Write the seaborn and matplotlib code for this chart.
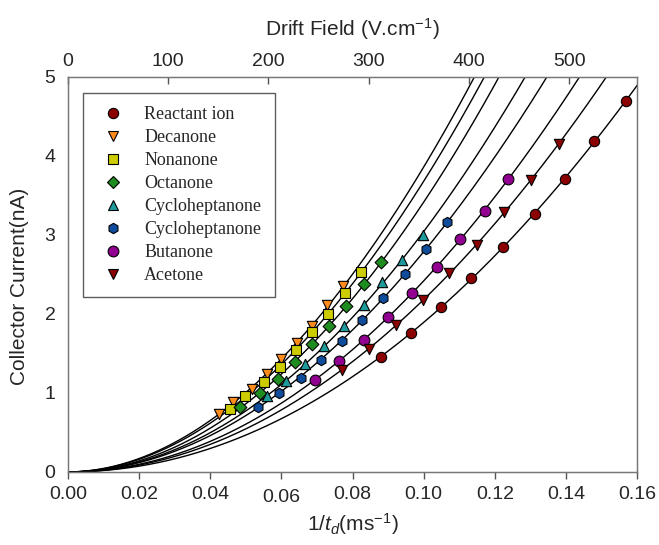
import numpy as np
import pandas as pd
import matplotlib
matplotlib.use("Agg")
import matplotlib.pyplot as plt
import matplotlib.transforms as mtransforms
import seaborn as sns
from matplotlib.lines import Line2D

# ---------------- data ----------------
series_names = ["Reactant ion", "Decanone", "Nonanone", "Octanone",
                "Cycloheptanone", "Cycloheptanone", "Butanone", "Acetone"]

reactant_x = [0.0880, 0.0964, 0.1049, 0.1133, 0.1223, 0.1313, 0.1398, 0.1479, 0.1569]
reactant_y = [1.456, 1.759, 2.089, 2.456, 2.848, 3.266, 3.709, 4.190, 4.700]

decanone_x = [0.0424, 0.0464, 0.0517, 0.0560, 0.0600, 0.0643, 0.0686, 0.0728, 0.0772]
decanone_y = [0.734, 0.886, 1.051, 1.234, 1.430, 1.633, 1.852, 2.108, 2.348]

nonanone_x = [0.0456, 0.0498, 0.0551, 0.0596, 0.0641, 0.0686, 0.0731, 0.0779, 0.0824]
nonanone_y = [0.797, 0.962, 1.139, 1.329, 1.544, 1.772, 2.000, 2.266, 2.532]

octanone_x = [0.0484, 0.0540, 0.0590, 0.0638, 0.0686, 0.0734, 0.0782, 0.0832, 0.0880]
octanone_y = [0.823, 1.000, 1.177, 1.392, 1.620, 1.848, 2.101, 2.380, 2.658]

cyclo_a_x = [0.0560, 0.0613, 0.0666, 0.0720, 0.0776, 0.0832, 0.0883, 0.0939, 0.0998]
cyclo_a_y = [0.962, 1.152, 1.367, 1.595, 1.848, 2.114, 2.405, 2.684, 3.000]

cyclo_b_x = [0.0534, 0.0593, 0.0655, 0.0711, 0.0770, 0.0826, 0.0885, 0.0947, 0.1007, 0.1065]
cyclo_b_y = [0.823, 1.000, 1.190, 1.418, 1.658, 1.924, 2.203, 2.506, 2.823, 3.165]

butanone_x = [0.0694, 0.0762, 0.0832, 0.0900, 0.0967, 0.1037, 0.1102, 0.1172, 0.1237]
butanone_y = [1.165, 1.405, 1.671, 1.962, 2.266, 2.595, 2.949, 3.304, 3.709]

acetone_x = [0.0770, 0.0846, 0.0922, 0.0998, 0.1071, 0.1150, 0.1226, 0.1302, 0.1381]
acetone_y = [1.291, 1.557, 1.861, 2.177, 2.519, 2.873, 3.291, 3.696, 4.152]

x_ticks = [0.00, 0.02, 0.04, 0.06, 0.08, 0.10, 0.12, 0.14, 0.16]
y_ticks = [0, 1, 2, 3, 4, 5]
top_ticks = [0, 100, 200, 300, 400, 500]
top_max = 568  # drift field at 1/td = 0.16

# ---------------- styles ----------------
colors = ["#8B0000", "#FF8C1A", "#CCCC00", "#1E8C1E",
          "#1F9A9A", "#0F4C9C", "#920092", "#8B0000"]
markers = ["o", "v", "s", "D", "^", "h", "o", "v"]
msizes = [55, 55, 46, 42, 55, 55, 60, 55]

xs = [reactant_x, decanone_x, nonanone_x, octanone_x, cyclo_a_x, cyclo_b_x, butanone_x, acetone_x]
ys = [reactant_y, decanone_y, nonanone_y, octanone_y, cyclo_a_y, cyclo_b_y, butanone_y, acetone_y]

plt.rcParams["mathtext.fontset"] = "custom"
plt.rcParams["mathtext.rm"] = "Liberation Sans"
plt.rcParams["mathtext.it"] = "Liberation Sans:italic"
sns.set_style("white")
plt.rcParams["font.family"] = ["Liberation Sans", "DejaVu Sans"]

fig = plt.figure(figsize=(6.59, 5.45), dpi=100)
ax = fig.add_axes([0.103, 0.134, 0.864, 0.725])

# fitted curves (power-law fit of each series' own points)
xgrid = np.linspace(0, 0.16, 400)
for x, y in zip(xs, ys):
    b, lna = np.polyfit(np.log(x), np.log(y), 1)
    curve = pd.DataFrame({"x": xgrid, "y": np.exp(lna) * xgrid ** b})
    sns.lineplot(data=curve, x="x", y="y", ax=ax, color="black", lw=1.0,
                 legend=False, zorder=2)

handles = []
for name, x, y, c, m, s in zip(series_names, xs, ys, colors, markers, msizes):
    df = pd.DataFrame({"x": x, "y": y})
    sns.scatterplot(data=df, x="x", y="y", ax=ax, color=c, marker=m, s=s,
                    edgecolor="black", linewidth=0.8, zorder=3, legend=False)
    handles.append(Line2D([], [], ls="none", marker=m, markerfacecolor=c,
                          markeredgecolor="black", markeredgewidth=0.8,
                          markersize=np.sqrt(s) * 1.0))

ax.set_xlim(0, 0.16)
ax.set_ylim(0, 5)
ax.set_xticks(x_ticks)
ax.set_xticklabels([f"{t:.2f}" for t in x_ticks])
ax.set_yticks(y_ticks)
ax.set_yticklabels([str(t) for t in y_ticks])
ax.tick_params(axis="both", direction="out", length=5, width=1, color="#555555",
               labelsize=14, pad=4)
ax.tick_params(axis="x", pad=5)
for sp in ax.spines.values():
    sp.set_color("#777777")
    sp.set_linewidth(1.0)

# the 0.06 label sits slightly lower in the reference
for lbl in ax.get_xticklabels():
    if lbl.get_text() == "0.06":
        lbl.set_transform(lbl.get_transform() +
                          mtransforms.ScaledTranslation(0, -2 / 72, fig.dpi_scale_trans))

ax.set_xlabel("1/$\\mathit{t_d}$(ms$^{\\mathregular{-1}}$)", fontsize=15, labelpad=4)
ax.set_ylabel("Collector Current(nA)", fontsize=15)
ax.yaxis.set_label_coords(-0.068, 0.47)

ax2 = ax.twiny()
ax2.set_xlim(0, top_max)
ax2.set_xticks(top_ticks)
ax2.set_xticklabels([str(t) for t in top_ticks])
ax2.tick_params(axis="x", direction="in", length=5, width=1, color="#555555",
                labelsize=14, pad=5)
for sp in ax2.spines.values():
    sp.set_color("#777777")
ax2.set_xlabel("Drift Field (V.cm$^{\\mathregular{-1}}$)", fontsize=15, labelpad=12)

leg = ax.legend(handles, series_names, loc="upper left",
                bbox_to_anchor=(0.026, 0.96), borderaxespad=0,
                prop={"family": "Liberation Serif", "size": 13},
                frameon=True, fancybox=False, edgecolor="#333333",
                handlelength=1.85, handletextpad=0.8, labelspacing=0.33,
                borderpad=0.75)
leg.get_frame().set_linewidth(1.0)
leg.set_zorder(5)

fig.savefig("out.png", dpi=100)
